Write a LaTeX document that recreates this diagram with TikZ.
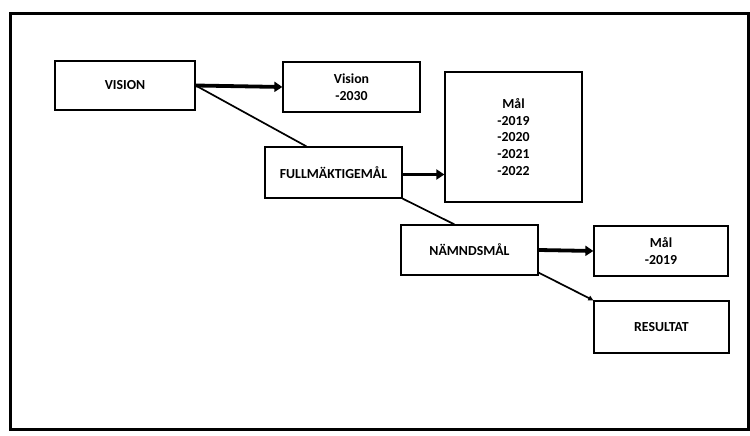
\documentclass[tikz,border=0pt]{standalone}
\usepackage{fontspec}
\setmainfont{Carlito}
\usetikzlibrary{arrows.meta}

\begin{document}
\begin{tikzpicture}[x=1pt,y=1pt,
  box/.style={draw=black,line width=1.3pt,minimum width=137pt,minimum height=50pt,inner sep=2pt,align=center,font=\fontsize{13.8}{16.8}\selectfont\bfseries},
  bigarrow/.style={line width=3.8pt,-{Triangle[length=8pt,width=10pt]}},
  link/.style={line width=1.7pt}]
\useasboundingbox (0,0) rectangle (750,436);
\draw[line width=3pt] (10,6) rectangle (748,422);
\node[box,minimum width=140pt,minimum height=49pt] (vision) at (125,350.5) {VISION};
\node[box] (visionyr) at (351.5,349) {Vision\\-2030};
\node[box,minimum height=51pt] (fullm) at (333.5,263.5) {FULLMÄKTIGEMÅL};
\node[box,minimum height=130pt] (mal) at (513.5,299) {Mål\\-2019\\-2020\\-2021\\-2022};
\node[box] (namnd) at (469.5,186) {NÄMNDSMÅL};
\node[box,minimum width=134pt] (malnamnd) at (661,185) {Mål\\-2019};
\node[box,minimum width=135pt,minimum height=52pt] (resultat) at (661.5,109) {RESULTAT};
\draw[bigarrow] (vision.east) -- (visionyr.west);
\draw[link] (vision.east) -- ([xshift=42pt]fullm.north west);
\draw[bigarrow] ([yshift=-2pt]fullm.east) -- ([yshift=-2pt]fullm.east -| mal.west);
\draw[link] (fullm.south east) -- ([xshift=54pt]namnd.north west);
\draw[bigarrow] (namnd.east) -- (malnamnd.west);
\draw[link,-{Triangle[length=5pt,width=5pt]}] ([yshift=3pt]namnd.south east) -- (resultat.north west);
\end{tikzpicture}
\end{document}
